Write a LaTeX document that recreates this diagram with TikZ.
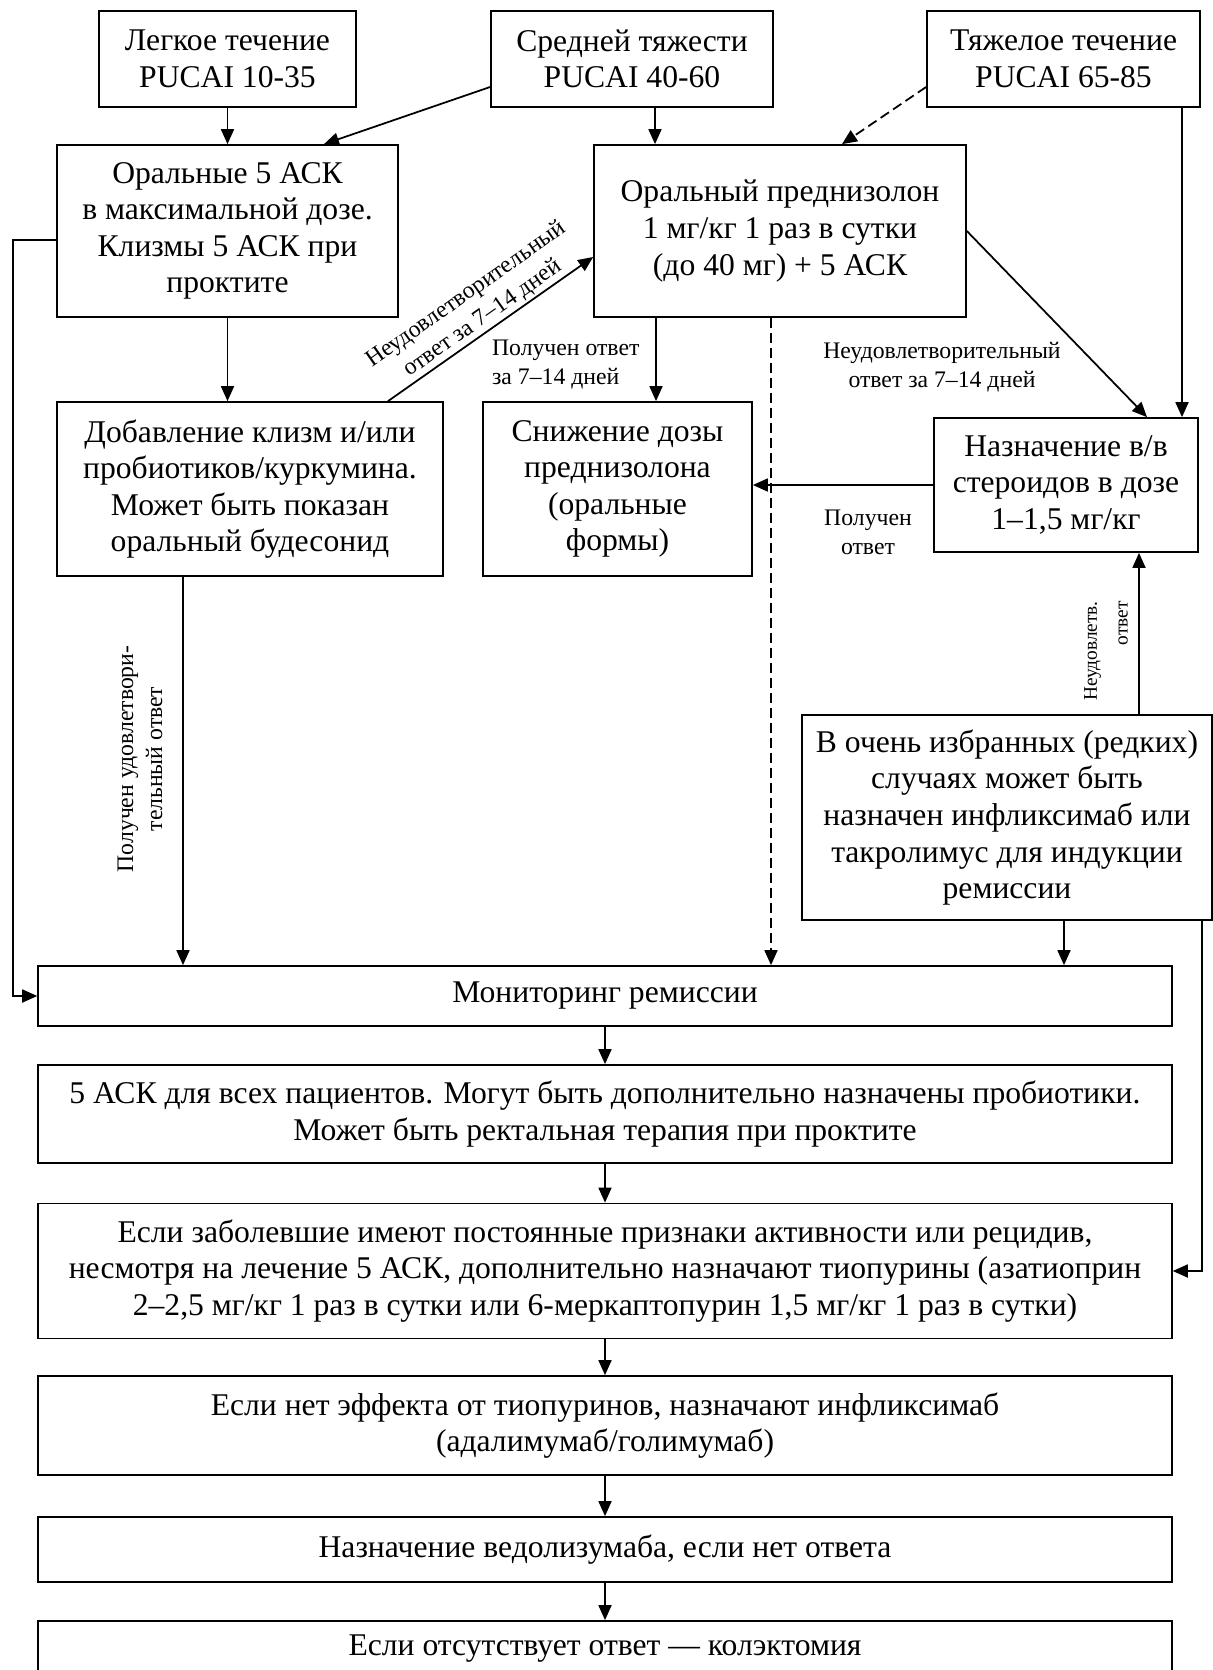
\documentclass[tikz,border=0pt]{standalone}
\usepackage{fontspec}
\setmainfont{Liberation Serif}
\usetikzlibrary{positioning,arrows.meta}

\begin{document}
\begin{tikzpicture}[x=0.02cm,y=-0.02cm,
  blk/.style={draw,line width=1pt,align=center,inner sep=0pt,font=\fontsize{18}{20.8}\selectfont},
  arr/.style={line width=1pt,-{Triangle[length=0.3cm,width=0.26cm]}},
  dsh/.style={arr,dash pattern=on 0.2cm off 0.1cm},
  lbl/.style={align=center,inner sep=1pt,font=\fontsize{13.5}{16.5}\selectfont}]
  \useasboundingbox (0,0) rectangle (1213,1670);
  \clip (0,0) rectangle (1213,1670);
  % severity (top row)
  \node[blk,minimum width=5.14cm,minimum height=1.92cm] (legk) at (227.5,59) {Легкое течение\\PUCAI 10-35};
  \node[blk,minimum width=5.64cm,minimum height=1.92cm] (sred) at (632,59) {Средней тяжести\\PUCAI 40-60};
  \node[blk,minimum width=5.46cm,minimum height=1.92cm] (tyazh) at (1063.5,59) {Тяжелое течение\\PUCAI 65-85};
  % induction
  \node[blk,minimum width=6.82cm,minimum height=3.44cm] (oral5) at (227.5,231) {Оральные 5 АСК\\в максимальной дозе.\\Клизмы 5 АСК при\\проктите};
  \node[blk,minimum width=7.44cm,minimum height=3.44cm] (pred) at (780,231) {Оральный преднизолон\\1 мг/кг 1 раз в сутки\\(до 40 мг) + 5 АСК};
  \node[blk,minimum width=7.72cm,minimum height=3.48cm] (dobav) at (250,489) {Добавление клизм и/или\\пробиотиков/куркумина.\\Может быть показан\\оральный будесонид};
  \node[blk,minimum width=5.38cm,minimum height=3.48cm] (snizh) at (617.5,489) {Снижение дозы\\преднизолона\\(оральные\\формы)};
  \node[blk,minimum width=5.28cm,minimum height=2.68cm] (vv) at (1066,485) {Назначение в/в\\стероидов в дозе\\1–1,5 мг/кг};
  \node[blk,minimum width=8.2cm,minimum height=4.1cm] (izbr) at (1007,817.5) {В очень избранных (редких)\\случаях может быть\\назначен инфликсимаб или\\такролимус для индукции\\ремиссии};
  % maintenance (full width boxes)
  \node[blk,minimum width=22.68cm,minimum height=1.2cm] (monit) at (605,996) {Мониторинг ремиссии};
  \node[blk,minimum width=22.68cm,minimum height=1.96cm] (ask) at (605,1114) {5 АСК для всех пациентов. Могут быть дополнительно назначены пробиотики.\\Может быть ректальная терапия при проктите};
  \node[blk,minimum width=22.68cm,minimum height=2.7cm] (tiop) at (605,1271) {Если заболевшие имеют постоянные признаки активности или рецидив,\\несмотря на лечение 5 АСК, дополнительно назначают тиопурины (азатиоприн\\2–2,5 мг/кг 1 раз в сутки или 6-меркаптопурин 1,5 мг/кг 1 раз в сутки)};
  \node[blk,minimum width=22.68cm,minimum height=1.98cm] (inflix) at (605,1425.5) {Если нет эффекта от тиопуринов, назначают инфликсимаб\\(адалимумаб/голимумаб)};
  \node[blk,minimum width=22.68cm,minimum height=1.3cm] (vedo) at (605,1549.5) {Назначение ведолизумаба, если нет ответа};
  \node[blk,minimum width=22.68cm,minimum height=1.1cm] (kolek) at (605,1648.5) {Если отсутствует ответ — колэктомия};

  % arrows from the top row
  \draw[arr] (legk.south) -- (oral5.north);
  \draw[arr] ([yshift=-0.56cm]sred.west) -- ([xshift=1.93cm]oral5.north);
  \draw[arr] (sred.south -| 655,0) -- (pred.north -| 655,0);
  \draw[dsh] ([yshift=-0.56cm]tyazh.west) -- ([xshift=1.24cm]pred.north);
  \draw[arr] (tyazh.south -| 1182,0) -- (vv.north -| 1182,0);
  % middle part
  \draw[arr] (oral5.south) -- (dobav.north -| oral5.south);
  \draw[arr] (dobav.north -| 388,0) -- ([yshift=-0.52cm]pred.west)
    node[lbl,midway,sloped,above] {Неудовлетворительный\\ответ за 7–14 дней};
  \draw[arr] (pred.south -| 656,0) -- (snizh.north -| 656,0);
  \node[lbl,anchor=west,align=left] (lpol) at (490,365) {Получен ответ\\за 7–14 дней};
  \draw[arr] (pred.east) -- (vv.north -| 1147,0);
  \node[lbl] (lneud) at (942,367) {Неудовлетворительный\\ответ за 7–14 дней};
  \draw[arr] (vv.west) -- (vv.west -| snizh.east);
  \node[lbl] (lpol2) at (868,532) {Получен\\ответ};
  \draw[arr] (izbr.north -| 1139,0) -- (vv.south -| 1139,0);
  \node[lbl,rotate=90,align=right,font=\fontsize{11}{17.5}\selectfont] (lnv) at (1106,651) {Неудовлетв.\\ответ};
  % into remission monitoring
  \draw[arr] ([yshift=-0.18cm]oral5.west) -- (13,240) |- (monit.west);
  \draw[arr] (dobav.south -| 183,0) -- (monit.north -| 183,0);
  \node[lbl,rotate=90] (lud) at (140,759) {Получен удовлетвори-\\тельный ответ};
  \draw[dsh] (pred.south -| 771,0) -- (monit.north -| 771,0);
  \draw[arr] (izbr.south -| 1064,0) -- (monit.north -| 1064,0);
  \draw[arr] (izbr.south -| 1202,0) |- (tiop.east);
  % maintenance chain
  \foreach \a/\b in {monit/ask,ask/tiop,tiop/inflix,inflix/vedo,vedo/kolek}
    \draw[arr] (\a.south) -- (\b.north);
\end{tikzpicture}
\end{document}
